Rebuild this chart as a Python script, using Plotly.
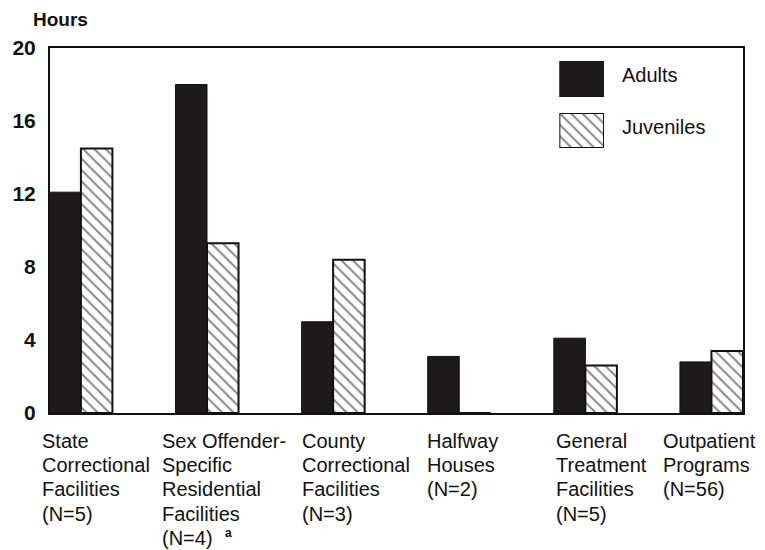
import plotly.graph_objects as go

# ---- data ----
categories = [
    "State\nCorrectional\nFacilities\n(N=5)",
    "Sex Offender-\nSpecific\nResidential\nFacilities\n(N=4)",
    "County\nCorrectional\nFacilities\n(N=3)",
    "Halfway\nHouses\n(N=2)",
    "General\nTreatment\nFacilities\n(N=5)",
    "Outpatient\nPrograms\n(N=56)",
]
footnote_marks = ["", "a", "", "", "", ""]
adults = [12.1, 18.0, 5.0, 3.1, 4.1, 2.8]
juveniles = [14.5, 9.3, 8.4, 0.0, 2.6, 3.4]
series_names = ["Adults", "Juveniles"]
y_ticks = [0, 4, 8, 12, 16, 20]

FONT = "Liberation Sans, Arial, Helvetica, sans-serif"
x_pos = list(range(len(categories)))

hatch = dict(shape="\\", fgcolor="#111111", bgcolor="white", size=8, solidity=0.25)

fig = go.Figure()
fig.add_trace(go.Bar(
    x=x_pos, y=adults, name=series_names[0],
    marker=dict(color="#1c1a1b", line=dict(color="#111111", width=1)),
    showlegend=False,
))
fig.add_trace(go.Bar(
    x=x_pos, y=juveniles, name=series_names[1],
    marker=dict(color="white", line=dict(color="#111111", width=2), pattern=hatch),
    showlegend=False,
))

# legend swatches drawn on small inset axes
fig.add_trace(go.Bar(
    x=[0], y=[1], width=[1], xaxis="x2", yaxis="y2", showlegend=False,
    hoverinfo="skip",
    marker=dict(color="#1c1a1b", line=dict(color="#111111", width=1)),
))
fig.add_trace(go.Bar(
    x=[0], y=[1], width=[1], xaxis="x3", yaxis="y3", showlegend=False,
    hoverinfo="skip",
    marker=dict(color="white", line=dict(color="#111111", width=2), pattern=hatch),
))

annotations = []
label_shift = [-41, -47, -33, -34, -31, -50]
line_gap = 24.2
first_off = 28
for i, cat in enumerate(categories):
    lines = cat.split("\n")
    for j, line in enumerate(lines):
        annotations.append(dict(
            x=i, xref="x", xanchor="left", xshift=label_shift[i],
            y=0, yref="paper", yanchor="middle", yshift=-(first_off + line_gap * j),
            text=line, showarrow=False,
            font=dict(family=FONT, size=20, color="#111111"),
        ))
    if footnote_marks[i]:
        j = len(lines) - 1
        annotations.append(dict(
            x=i, xref="x", xanchor="left", xshift=label_shift[i] + 63,
            y=0, yref="paper", yanchor="middle",
            yshift=-(first_off + line_gap * j) + 5,
            text="<b>" + footnote_marks[i] + "</b>", showarrow=False,
            font=dict(family=FONT, size=12, color="#111111"),
        ))

# axis title
annotations.append(dict(
    x=-0.017, xref="paper", xanchor="left", xshift=-7,
    y=1, yref="paper", yanchor="middle", yshift=29,
    text="<b>Hours</b>", showarrow=False,
    font=dict(family=FONT, size=19, color="#111111"),
))
# legend texts
annotations.append(dict(
    x=0.8266, xref="paper", xanchor="left", xshift=-3, y=0.926, yref="paper",
    yanchor="middle", text=series_names[0], showarrow=False,
    font=dict(family=FONT, size=20, color="#111111"),
))
annotations.append(dict(
    x=0.8266, xref="paper", xanchor="left", xshift=-3, y=0.784, yref="paper",
    yanchor="middle", text=series_names[1], showarrow=False,
    font=dict(family=FONT, size=20, color="#111111"),
))

fig.update_layout(
    width=765, height=550,
    margin=dict(l=45, r=22, t=48, b=137),
    paper_bgcolor="white", plot_bgcolor="white",
    barmode="group", bargap=0.5, bargroupgap=0,
    font=dict(family=FONT, color="#111111"),
    xaxis=dict(
        range=[-0.245, 5.25], showticklabels=False, ticks="",
        showgrid=False, zeroline=False,
        showline=True, mirror=True, linecolor="#111111", linewidth=2,
        fixedrange=True,
    ),
    yaxis=dict(
        range=[0, 20], tickvals=y_ticks,
        ticktext=[f"<b>{v}</b>" for v in y_ticks],
        tickfont=dict(family=FONT, size=21, color="#111111"),
        ticks="", ticklabelstandoff=8,
        showgrid=False, zeroline=False,
        showline=True, mirror=True, linecolor="#111111", linewidth=2,
        fixedrange=True,
    ),
    xaxis2=dict(domain=[0.735, 0.7994], anchor="y2", range=[-0.5, 0.5],
                visible=False, fixedrange=True),
    yaxis2=dict(domain=[0.8658, 0.9644], anchor="x2", range=[0, 1],
                visible=False, fixedrange=True),
    xaxis3=dict(domain=[0.735, 0.7994], anchor="y3", range=[-0.5, 0.5],
                visible=False, fixedrange=True),
    yaxis3=dict(domain=[0.7260, 0.8219], anchor="x3", range=[0, 1],
                visible=False, fixedrange=True),
    annotations=annotations,
)

fig.write_html(
    "out.html",
    config={"displayModeBar": False},
    post_script="document.body.style.margin='0';",
)
